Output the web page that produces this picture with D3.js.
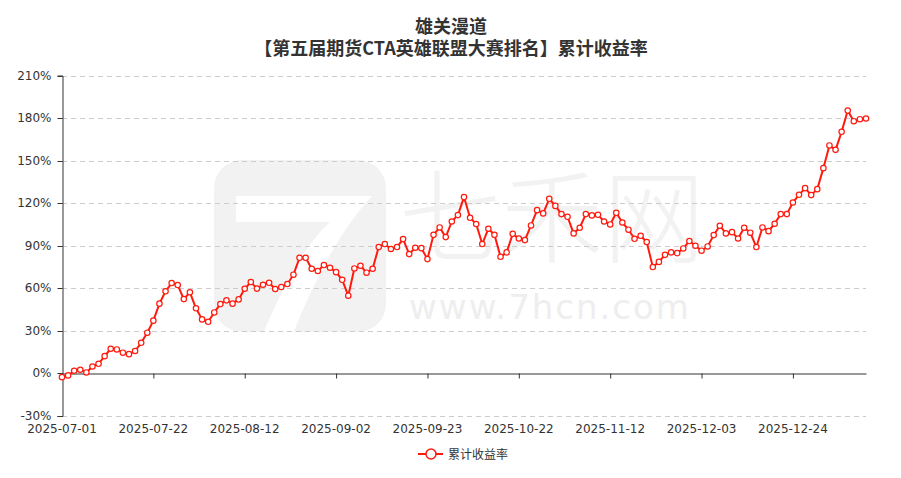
<!DOCTYPE html>
<html><head><meta charset="utf-8">
<script src="https://cdn.jsdelivr.net/npm/d3@7/dist/d3.min.js"></script>
<style>body{margin:0;background:#fff}svg{display:block}</style>
</head><body>
<script>
const titleLines = ["雄关漫道", "【第五届期货CTA英雄联盟大赛排名】累计收益率"];
const seriesName = "累计收益率";
const dates = [
"2025-07-01","2025-07-02","2025-07-03","2025-07-04","2025-07-07","2025-07-08","2025-07-09","2025-07-10","2025-07-11","2025-07-14","2025-07-15","2025-07-16","2025-07-17","2025-07-18","2025-07-21","2025-07-22","2025-07-23","2025-07-24","2025-07-25","2025-07-28","2025-07-29","2025-07-30","2025-07-31",
"2025-08-01","2025-08-04","2025-08-05","2025-08-06","2025-08-07","2025-08-08","2025-08-11","2025-08-12","2025-08-13","2025-08-14","2025-08-15","2025-08-18","2025-08-19","2025-08-20","2025-08-21","2025-08-22","2025-08-25","2025-08-26","2025-08-27","2025-08-28","2025-08-29",
"2025-09-01","2025-09-02","2025-09-03","2025-09-04","2025-09-05","2025-09-08","2025-09-09","2025-09-10","2025-09-11","2025-09-12","2025-09-15","2025-09-16","2025-09-17","2025-09-18","2025-09-19","2025-09-22","2025-09-23","2025-09-24","2025-09-25","2025-09-26","2025-09-29","2025-09-30",
"2025-10-09","2025-10-10","2025-10-13","2025-10-14","2025-10-15","2025-10-16","2025-10-17","2025-10-20","2025-10-21","2025-10-22","2025-10-23","2025-10-24","2025-10-27","2025-10-28","2025-10-29","2025-10-30","2025-10-31",
"2025-11-03","2025-11-04","2025-11-05","2025-11-06","2025-11-07","2025-11-10","2025-11-11","2025-11-12","2025-11-13","2025-11-14","2025-11-17","2025-11-18","2025-11-19","2025-11-20","2025-11-21","2025-11-24","2025-11-25","2025-11-26","2025-11-27","2025-11-28",
"2025-12-01","2025-12-02","2025-12-03","2025-12-04","2025-12-05","2025-12-08","2025-12-09","2025-12-10","2025-12-11","2025-12-12","2025-12-15","2025-12-16","2025-12-17","2025-12-18","2025-12-19","2025-12-22","2025-12-23","2025-12-24","2025-12-25","2025-12-26","2025-12-29","2025-12-30","2025-12-31",
"2026-01-05","2026-01-06","2026-01-07","2026-01-08","2026-01-09","2026-01-12","2026-01-13"];
const values = [
-2.6,-1.4,1.9,2.6,0.7,4.9,6.8,12.2,17.4,16.9,14.6,13.6,15.8,21.6,28.7,37.2,49.2,
57.9,63.7,62.3,52.4,57.2,45.9,38.1,36.4,43.0,48.9,51.5,49.2,52.2,59.7,64.4,59.8,
62.5,63.9,59.5,60.9,63.0,69.6,81.5,81.5,73.8,72.2,76.4,74.5,71.4,66.0,54.8,74.0,75.9,
71.0,73.8,89.1,91.2,87.7,89.1,94.7,84.1,88.6,88.3,80.6,97.7,102.9,96.1,107.1,111.6,
124.3,109.7,105.3,91.2,102.0,97.7,82.2,85.3,98.4,95.1,94.0,104.3,115.1,112.8,123.1,118.1,
112.3,110.4,98.7,102.7,112.3,111.4,111.8,107.1,105.0,113.2,106.4,101.3,94.9,97.0,92.6,75.0,78.6,
83.6,85.3,84.8,88.1,93.3,90.0,86.5,89.5,97.5,104.1,98.7,99.6,95.1,102.7,99.2,89.1,
102.9,100.3,105.5,112.3,112.3,120.5,125.9,130.6,125.7,129.9,144.7,160.7,157.6,170.3,185.3,177.8,179.2,179.7];
const yTicks = [-30,0,30,60,90,120,150,180,210];
const xTickEvery = 15;

const W = 901, H = 478;
const plotL = 62, plotR = 866, plotT = 75.5, plotB = 416;
const svg = d3.select("body").append("svg").attr("width", W).attr("height", H);
const font = "'Noto Sans CJK SC','Noto Sans',sans-serif";

// watermark
const wm = svg.append("g").attr("fill", "#f2f2f2");
wm.append("rect").attr("x", 214).attr("y", 160).attr("width", 172).attr("height", 172).attr("rx", 28);
svg.append("path").attr("d", "M236,196 L372,196 Q330,240 292,336 L262,336 Q298,250 330,222 L236,222 Z").attr("fill", "#fff");
wm.append("text").attr("x", 552).attr("y", 255).attr("text-anchor", "middle")
  .attr("font-family", font).attr("font-size", 102).attr("font-weight", 300).text("七禾网");
wm.append("text").attr("x", 550).attr("y", 319).attr("text-anchor", "middle")
  .attr("font-family", "'DejaVu Sans',sans-serif").attr("font-size", 34).attr("letter-spacing", 2).attr("fill", "#eeeeee").text("www.7hcn.com");

const x = d3.scalePoint().domain(dates).range([plotL, plotR]);
const y = d3.scaleLinear().domain([-30, 210]).range([plotB, plotT]);

// grid
svg.append("g").selectAll("line").data(yTicks.filter(t => t !== 0)).join("line")
  .attr("x1", plotL).attr("x2", plotR)
  .attr("y1", d => Math.round(y(d)) + 0.5).attr("y2", d => Math.round(y(d)) + 0.5)
  .attr("stroke", "#cccccc").attr("stroke-dasharray", "5,4");

// y axis
const yAxis = d3.axisLeft(y).tickValues(yTicks).tickSize(5).tickPadding(6).tickFormat(d => d + "%");
const gy = svg.append("g").attr("transform", `translate(${plotL + 0.5},0)`).call(yAxis);
gy.select(".domain").attr("stroke", "#333");
gy.selectAll(".tick line").attr("stroke", "#333");
gy.selectAll("text").attr("fill", "#333").attr("font-size", 12).attr("font-family", "'DejaVu Sans',sans-serif");
gy.selectAll(".tick").attr("transform", d => `translate(0,${Math.round(y(d)) + 0.5})`);

// x axis line on zero
const tickDates = dates.filter((d, i) => i % xTickEvery === 0);
const xAxis = d3.axisBottom(x).tickValues(tickDates).tickSize(5).tickSizeOuter(0).tickFormat("");
const gx = svg.append("g").attr("transform", `translate(0,${Math.round(y(0)) + 0.5})`).call(xAxis);
gx.select(".domain").attr("stroke", "#333");
gx.selectAll(".tick line").attr("stroke", "#333");

// x labels at bottom
svg.append("g").selectAll("text").data(tickDates).join("text")
  .attr("x", d => x(d)).attr("y", 433).attr("text-anchor", "middle")
  .attr("font-size", 12).attr("font-family", "'DejaVu Sans',sans-serif").attr("fill", "#333").text(d => d);

// line
const line = d3.line().x((d, i) => x(dates[i])).y(d => y(d));
svg.append("path").datum(values).attr("d", line).attr("fill", "none")
  .attr("stroke", "#ff1a0e").attr("stroke-width", 2).attr("stroke-linejoin", "round");
svg.append("g").selectAll("circle").data(values).join("circle")
  .attr("cx", (d, i) => x(dates[i])).attr("cy", d => y(d)).attr("r", 2.7)
  .attr("fill", "#fff").attr("stroke", "#ff1a0e").attr("stroke-width", 1.2);

// title
const tt = svg.append("text").attr("text-anchor", "middle")
  .attr("font-family", font).attr("font-weight", "bold").attr("font-size", 18).attr("fill", "#333");
tt.append("tspan").attr("x", 451).attr("y", 33).text(titleLines[0]);
tt.append("tspan").attr("x", 451).attr("y", 55).text(titleLines[1]);

// legend
const lg = svg.append("g");
lg.append("line").attr("x1", 418).attr("x2", 443).attr("y1", 454).attr("y2", 454).attr("stroke", "#ff1a0e").attr("stroke-width", 2);
lg.append("circle").attr("cx", 431).attr("cy", 454).attr("r", 5).attr("fill", "#fff").attr("stroke", "#ff1a0e").attr("stroke-width", 1.5);
lg.append("text").attr("x", 448).attr("y", 458.5).attr("font-family", font).attr("font-size", 12).attr("fill", "#333").text(seriesName);
</script>
</body></html>
